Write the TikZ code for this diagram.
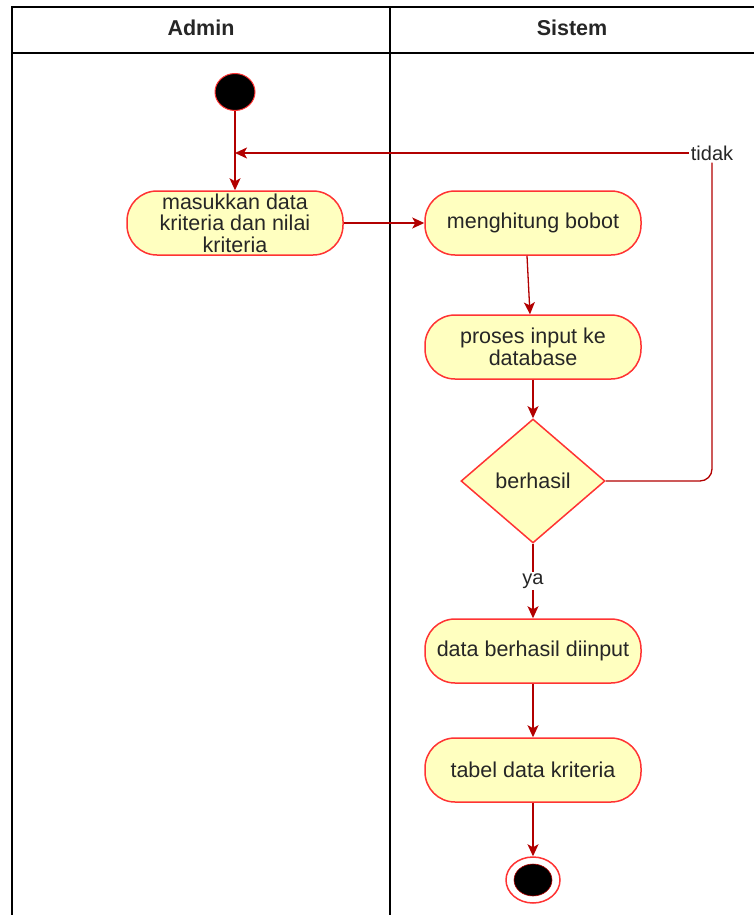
\documentclass[tikz,border=0pt]{standalone}
\usepackage{fontspec}
\setmainfont{Liberation Sans}
\usetikzlibrary{shapes.geometric,arrows.meta}
\definecolor{actfill}{HTML}{FFFFC0}
\definecolor{actline}{HTML}{FF3333}
\definecolor{flowc}{HTML}{B20000}
\definecolor{txt}{HTML}{262626}
\tikzset{
  act/.style={draw=actline, fill=actfill, line width=1.5pt, rounded corners=30pt,
    minimum width=216pt, minimum height=64pt, align=center, text=txt,
    font=\fontsize{21.5}{21.5}\selectfont, inner sep=1pt},
  dec/.style={diamond, draw=actline, fill=actfill, line width=1.5pt,
    minimum width=144pt, minimum height=124pt, inner sep=0pt, text=txt,
    font=\fontsize{21.5}{22}\selectfont},
  flow/.style={draw=flowc, line width=1.3pt, -{Stealth[length=12pt,width=11pt,inset=3pt]}},
  plain/.style={draw=flowc, line width=1.3pt},
  lbl/.style={text=txt, font=\fontsize{20}{22}\selectfont, inner sep=2pt, fill=white},
  lane/.style={draw=black, line width=1.5pt},
  head/.style={font=\bfseries\fontsize{21.5}{22}\selectfont, text=txt}
}
\begin{document}
\begin{tikzpicture}[x=1pt,y=-1pt]
\useasboundingbox (0,0) rectangle (754,915);
% swimlanes
\draw[lane] (754,7) -- (12,7) -- (12,915);
\draw[lane] (12,53) -- (754,53);
\draw[lane] (390,7) -- (390,915);
\node[head] (hAdmin) at (201,28) {Admin};
\node[head] (hSistem) at (572,28) {Sistem};
% nodes
\node[ellipse, draw=actline, fill=black, line width=1pt, minimum width=40pt, minimum height=37pt, inner sep=0pt] (start) at (235,92) {};
\node[act] (mas) at (235,223) {masukkan data\\kriteria dan nilai\\kriteria};
\node[act] (hit) at (533,223) {menghitung bobot};
\node[act] (pro) at (533,347) {proses input ke\\database};
\node[dec] (dec) at (533,481) {berhasil};
\node[act] (dat) at (533,651) {data berhasil diinput};
\node[act] (tab) at (533,770) {tabel data kriteria};
\node[ellipse, draw=actline, fill=white, line width=1.5pt, minimum width=54pt, minimum height=46pt, inner sep=0pt] (end) at (533,880) {};
\node[ellipse, draw=flowc, fill=black, line width=0.6pt, minimum width=38pt, minimum height=32pt, inner sep=0pt] (endin) at (533,880) {};
\node[lbl] (tidak) at (712,153) {tidak};
\coordinate (join) at (235,153);
% connectors
\draw[flow] (start) -- (mas);
\draw[flow] (mas) -- (hit);
\draw[flow] ([xshift=-6pt]hit.south) -- ([xshift=-3pt]pro.north);
\draw[flow] (pro) -- (dec);
\draw[plain, rounded corners=12pt] (dec.east) -- (712,481) -- (tidak.south);
\draw[flow] (tidak.west) -- (join);
\draw[flow] (dec.south) -- node[lbl] (ya) {ya} (dat.north);
\draw[flow] (dat) -- (tab);
\draw[flow] (tab) -- (end);
\end{tikzpicture}
\end{document}
